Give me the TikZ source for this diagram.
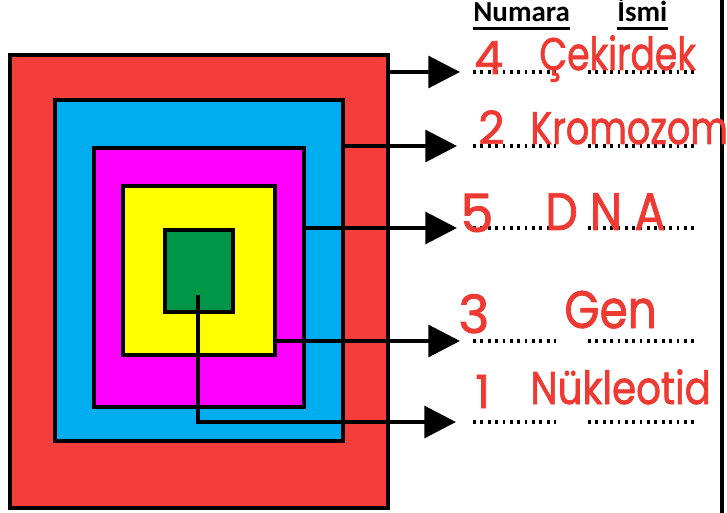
\documentclass[tikz,border=0pt]{standalone}
\usepackage{fontspec}
\setmainfont{Carlito}
\newfontfamily\handfont[FakeBold=1.6]{Poppins}
\usetikzlibrary{arrows.meta, positioning, calc}
\definecolor{cellred}{RGB}{243, 62, 60}
\definecolor{cellblue}{RGB}{0, 174, 239}
\definecolor{cellmagenta}{RGB}{255, 0, 255}
\definecolor{cellyellow}{RGB}{255, 255, 0}
\definecolor{cellgreen}{RGB}{0, 150, 72}
\definecolor{inkred}{RGB}{238, 58, 50}
\newcommand{\squeeze}[2]{\scalebox{#1}[1]{#2}}
\tikzset{
  layerbox/.style={
    rectangle, draw=black, line width=1.8pt, inner sep=0pt
  },
  pointer/.style={
    draw=black, line width=2.3pt, -{Triangle[length=18pt, width=18pt]}
  },
  dotline/.style={
    draw=black, line width=1.8pt, dash pattern=on 1.6pt off 2.6pt
  },
  headlabel/.style={
    font=\bfseries\fontsize{16.5}{19}\selectfont, inner sep=0pt, anchor=base west
  },
  answer/.style={
    font=\handfont\fontsize{26}{30}\selectfont, text=inkred, inner sep=0pt, anchor=base west
  },
  biganswer/.style={
    answer, font=\handfont\fontsize{30}{34}\selectfont
  }
}

\begin{document}
\begin{tikzpicture}[x=0.02cm, y=-0.02cm]
  \useasboundingbox (0,0) rectangle (727,513);

  % nested layers
  \node[layerbox, fill=cellred, minimum width=7.56cm, minimum height=9.06cm] (nucleus) at (199,281.5) {};
  \node[layerbox, fill=cellblue, minimum width=5.76cm, minimum height=6.82cm] (chromosome) at (199,270.5) {};
  \node[layerbox, fill=cellmagenta, minimum width=4.2cm, minimum height=5.18cm] (dna) at (199,277.5) {};
  \node[layerbox, fill=cellyellow, minimum width=3.04cm, minimum height=3.38cm] (gene) at (199,270.5) {};
  \node[layerbox, fill=cellgreen, minimum width=1.36cm, minimum height=1.64cm] (nucleotide) at (199,271) {};

  % frame edge on the right
  \draw[line width=1.8pt] (722,0) -- (722,513);

  % column heads
  \node[headlabel] (numara) at (473,22) {Numara};
  \node[headlabel] (ismi) at (617,22) {İsmi};
  \draw[line width=1.6pt] ([yshift=-3.5pt]numara.base west) -- ([yshift=-3.5pt]numara.base east);
  \draw[line width=1.6pt] ([yshift=-3.5pt]ismi.base west) -- ([yshift=-3.5pt]ismi.base east);

  % answer lines
  \foreach \ry in {72,146,228,341,422} {
    \draw[dotline] (473,\ry) -- (556,\ry);
    \draw[dotline] (588,\ry) -- (695,\ry);
  }

  \coordinate (tip_nucleus) at (460,72);
  \coordinate (tip_chromosome) at (457,146);
  \coordinate (tip_dna) at (457,228);
  \coordinate (tip_gene) at (460,341);
  \coordinate (tip_nucleotide) at (456,422);
  \coordinate (nucleotide_start) at (198,295);

  \draw[pointer] (nucleus.east |- tip_nucleus) -- (tip_nucleus);
  \draw[pointer] (chromosome.east |- tip_chromosome) -- (tip_chromosome);
  \draw[pointer] (dna.east |- tip_dna) -- (tip_dna);
  \draw[pointer] (gene.east |- tip_gene) -- (tip_gene);
  \draw[pointer] (nucleotide_start) |- (tip_nucleotide);

  % handwritten answers
  \node[answer] (num_nucleus) at (474,74) {4};
  \node[answer] (name_nucleus) at (539,70) {\squeeze{0.79}{Çekirdek}};
  \node[answer] (num_chromosome) at (478,144) {2};
  \node[answer] (name_chromosome) at (530,144) {\squeeze{0.8}{Kromozom}};
  \node[biganswer] (num_dna) at (460,232) {5};
  \node[biganswer] (name_dna) at (545,230) {\squeeze{0.87}{D N A}};
  \node[biganswer] (num_gene) at (458,333) {3};
  \node[biganswer] (name_gene) at (564,328) {\squeeze{0.86}{Gen}};
  \node[answer] (num_nucleotide) at (475,408) {1};
  \node[answer] (name_nucleotide) at (530,404) {\squeeze{0.85}{Nükleotid}};
\end{tikzpicture}
\end{document}
